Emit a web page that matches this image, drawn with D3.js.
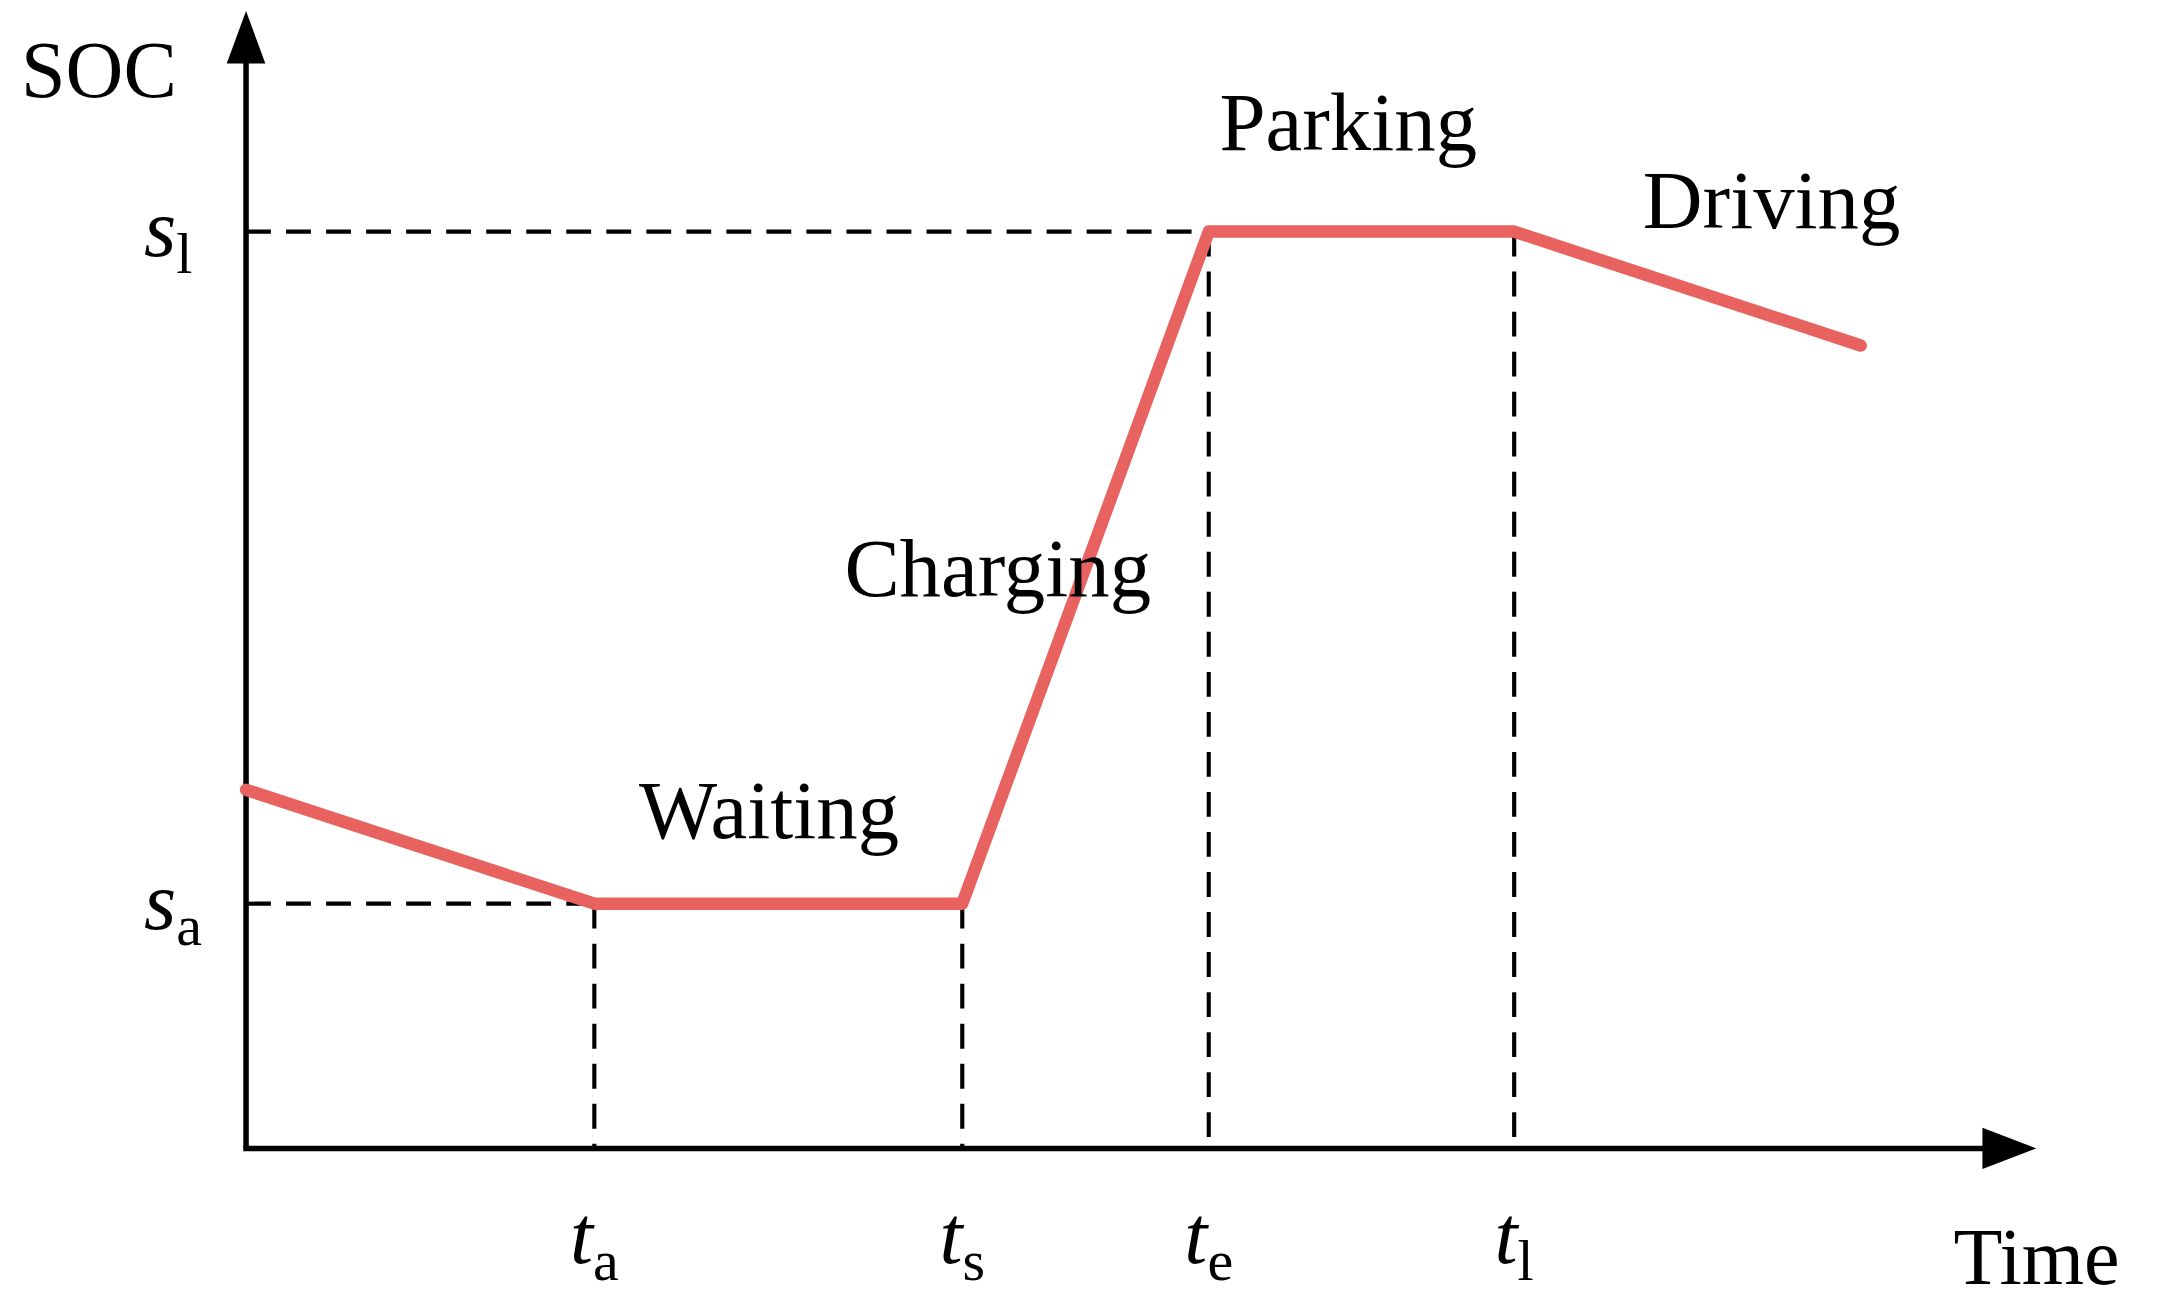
<!DOCTYPE html>
<html><head><meta charset="utf-8">
<script src="https://cdn.jsdelivr.net/npm/d3@7"></script>
<style>body{margin:0;background:#fff}</style>
</head><body>
<script>
// SOC profile (arbitrary units)
const times = [0, 1.95, 4.01, 5.39, 7.10, 9.04];
const socs = [3.18, 2.17, 2.17, 8.13, 8.13, 7.12];
const tickTimes = [1.95, 4.01, 5.39, 7.10];
const tickSubs = ["a", "s", "e", "l"];
const socLevels = [8.13, 2.17];
const socSubs = ["l", "a"];
const phases = ["Waiting", "Charging", "Parking", "Driving"];
const phasePos = [[2.2, 2.75], [3.35, 4.9], [5.45, 8.85], [7.82, 8.16]];

const W = 1568, H = 944;
const svg = d3.select("body").append("svg")
  .attr("width", 2165).attr("height", 1303)
  .attr("viewBox", `0 0 ${W} ${H}`)
  .style("font-family", "'Liberation Serif', serif");

const x = d3.scaleLinear().domain([0, 10]).range([178, 1472]);
const y = d3.scaleLinear().domain([0, 10]).range([832, 15]);

// dashed guides
const dash = svg.append("g").attr("stroke", "#000").attr("stroke-width", 3).attr("stroke-dasharray", "18,11").attr("fill", "none");
dash.append("line").attr("x1", x(0)).attr("x2", x(times[3])).attr("y1", y(socLevels[0])).attr("y2", y(socLevels[0]));
dash.append("line").attr("x1", x(0)).attr("x2", x(times[1])).attr("y1", y(socLevels[1])).attr("y2", y(socLevels[1]));
tickTimes.forEach((t, i) => {
  dash.append("line").attr("x1", x(t)).attr("x2", x(t))
    .attr("y1", y(socs[i + 1])).attr("y2", y(0));
});

// axes with arrows
svg.append("line").attr("x1", x(0)).attr("y1", y(0)).attr("x2", x(0)).attr("y2", 40).attr("stroke", "#000").attr("stroke-width", 4);
svg.append("line").attr("x1", x(0) - 2).attr("y1", y(0)).attr("x2", 1445).attr("y2", y(0)).attr("stroke", "#000").attr("stroke-width", 4);
svg.append("path").attr("d", `M${x(0)},8 L${x(0) - 14},46 L${x(0) + 14},46 Z`);
svg.append("path").attr("d", `M1475,${y(0)} L1436,${y(0) - 15} L1436,${y(0) + 15} Z`);

// SOC line
svg.append("path")
  .datum(d3.zip(times, socs))
  .attr("d", d3.line().x(d => x(d[0])).y(d => y(d[1])))
  .attr("fill", "none").attr("stroke", "#e8625f").attr("stroke-width", 9)
  .attr("stroke-linecap", "round").attr("stroke-linejoin", "round");

// labels
svg.append("text").attr("x", 15).attr("y", 70).attr("font-size", 58).text("SOC");
svg.append("text").attr("x", 1415).attr("y", 930).attr("font-size", 58).text("Time");

tickTimes.forEach((t, i) => {
  const tx = svg.append("text").attr("x", x(t)).attr("y", 915).attr("font-size", 60).attr("text-anchor", "middle");
  tx.append("tspan").attr("font-style", "italic").text("t");
  tx.append("tspan").attr("font-size", 42).attr("dy", 12).text(tickSubs[i]);
});
socLevels.forEach((s, i) => {
  const tx = svg.append("text").attr("x", 104).attr("y", y(s) + 18).attr("font-size", 60);
  tx.append("tspan").attr("font-style", "italic").text("s");
  tx.append("tspan").attr("font-size", 42).attr("dy", 12).text(socSubs[i]);
});
phases.forEach((p, i) => {
  svg.append("text").attr("x", x(phasePos[i][0])).attr("y", y(phasePos[i][1]))
    .attr("font-size", 60).text(p);
});
</script>
</body></html>
